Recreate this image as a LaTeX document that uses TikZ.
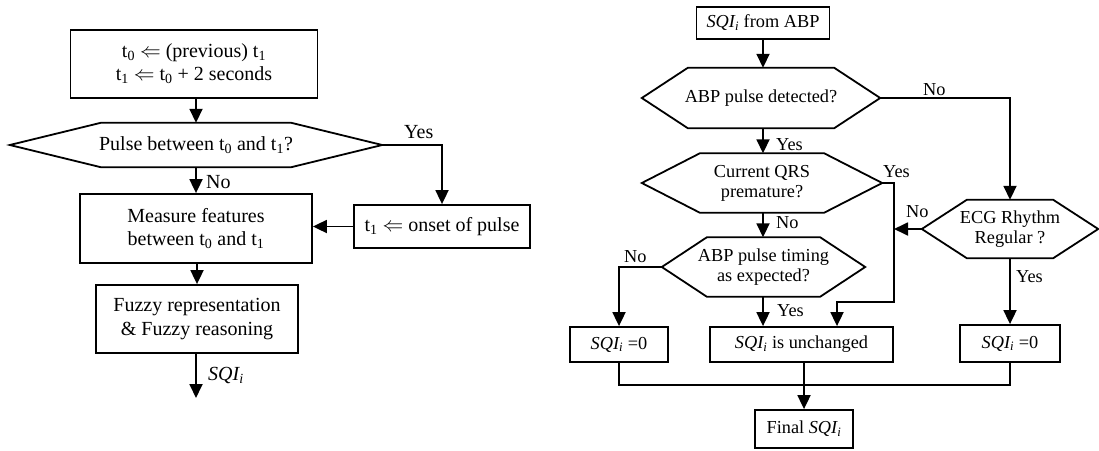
\documentclass[tikz,border=0pt]{standalone}
\usepackage{fontspec}
\setmainfont{Liberation Serif}
\usetikzlibrary{arrows.meta}
\tikzset{
  ln/.style={line width=1.8pt},
  arr/.style={ln,-{Triangle[length=14pt,width=13pt]}},
  fL/.style={font=\fontsize{20}{23}\selectfont},
  fR/.style={font=\fontsize{18.3}{20}\selectfont},
  boxL/.style={draw,ln,inner sep=0pt,align=center,fL},
  boxR/.style={draw,ln,inner sep=0pt,align=center,fR},
  hexL/.style={inner sep=0pt,align=center,fL},
  hexR/.style={inner sep=0pt,align=center,fR},
  lblL/.style={inner sep=0pt,fL},
  lblR/.style={inner sep=0pt,fR},
}
\newcommand\hexpath[2]{\draw[ln,line join=miter] (#1.west) -- ([xshift=#2pt]#1.north west) -- ([xshift=-#2pt]#1.north east) -- (#1.east) -- ([xshift=-#2pt]#1.south east) -- ([xshift=#2pt]#1.south west) -- cycle;}
\newcommand\sqi{\textit{SQI\textsubscript{i}}}
\begin{document}
\begin{tikzpicture}[x=1pt,y=-1pt]
\useasboundingbox (0,0) rectangle (1099,450);
% ---------------- left flowchart
\node[boxL,minimum width=247pt,minimum height=68pt] (b1) at (194,64)
  {t\textsubscript{0} $\Leftarrow$ (previous) t\textsubscript{1}\\ t\textsubscript{1} $\Leftarrow$ t\textsubscript{0} + 2 seconds};
\node[hexL,minimum width=372pt,minimum height=44pt] (d1) at (196,145)
  {Pulse between t\textsubscript{0} and t\textsubscript{1}?};
\hexpath{d1}{91}
\node[boxL,minimum width=232pt,minimum height=69pt] (b2) at (196,228.5)
  {Measure features\\ between t\textsubscript{0} and t\textsubscript{1}};
\node[boxL,minimum width=176pt,minimum height=43pt] (b3) at (442,226.5)
  {t\textsubscript{1} $\Leftarrow$ onset of pulse};
\node[boxL,minimum width=202pt,minimum height=68pt,font=\fontsize{20}{24}\selectfont] (b4) at (197,319)
  {Fuzzy representation\\ \& Fuzzy reasoning};
\coordinate (out) at (196,398);
\draw[arr] (b1.south -| d1.north) -- (d1.north);
\draw[arr] (d1.east) -| (b3.north);
\node[lblL,anchor=west] (yes1) at (404,132) {Yes};
\draw[arr] (d1.south) -- (b2.north);
\node[lblL,anchor=west] (no1) at (206,182) {No};
\draw[arr] (b3.west) -- (b3.west -| b2.east);
\draw[arr] (b2.south -| b4.north) -- (b4.north);
\draw[arr] (b4.south -| out) -- (out);
\node[lblL,anchor=west] (sqo) at (208,375) {\sqi};
% ---------------- right flowchart
\node[boxR,minimum width=133pt,minimum height=32pt] (r1) at (763,23) {\sqi{} from ABP};
\node[hexR,minimum width=238pt,minimum height=60pt] (rd1) at (761,98) {ABP pulse detected?};
\hexpath{rd1}{46}
\node[hexR,minimum width=240pt,minimum height=59pt] (rd2) at (762,183) {Current QRS\\ premature?};
\hexpath{rd2}{58}
\node[hexR,minimum width=203pt,minimum height=59pt] (rd3) at (763.5,267) {ABP pulse timing\\ as expected?};
\hexpath{rd3}{45}
\node[hexR,minimum width=176pt,minimum height=58pt] (ecg) at (1010,229) {ECG Rhythm\\ Regular ?};
\hexpath{ecg}{45}
\node[boxR,minimum width=98pt,minimum height=35pt] (s0l) at (619,344.5) {\sqi{} =0};
\node[boxR,minimum width=183pt,minimum height=35pt] (su) at (801.5,344.5) {\sqi{} is unchanged};
\node[boxR,minimum width=100pt,minimum height=37pt] (s0r) at (1010,343.5) {\sqi{} =0};
\node[boxR,minimum width=98pt,minimum height=38pt] (fin) at (804,429) {Final \sqi};
\coordinate (ya) at (894,302);
\coordinate (yb) at (837,302);
\coordinate (jl) at (619,385);
\coordinate (jr) at (1010,385);
\draw[arr] (r1.south) -- (rd1.north -| r1.south);
\draw[arr] (rd1.east) -| (ecg.north);
\node[lblR,anchor=west] (no2) at (923,90) {No};
\draw[arr] (rd1.south -| r1.south) -- (rd2.north -| r1.south);
\node[lblR,anchor=west] (yes2) at (776,145) {Yes};
\draw[arr] (rd2.south -| r1.south) -- (rd3.north -| r1.south);
\node[lblR,anchor=west] (no3) at (776,223) {No};
\draw[arr] (rd2.east) -| (ya) -- (yb) -- (su.north -| yb);
\node[lblR,anchor=west] (yes3) at (883,172) {Yes};
\draw[arr] (ecg.west) -- (ecg.west -| ya);
\node[lblR,anchor=west] (no4) at (906,212) {No};
\draw[arr] (rd3.west) -| (s0l.north);
\node[lblR,anchor=west] (no5) at (624,257) {No};
\draw[arr] (rd3.south -| r1.south) -- (su.north -| r1.south);
\node[lblR,anchor=west] (yes4) at (777,311) {Yes};
\draw[arr] (ecg.south) -- (s0r.north);
\node[lblR,anchor=west] (yes5) at (1016,277) {Yes};
\draw[ln] (s0l.south) -- (jl) -- (jr) -- (s0r.south);
\draw[arr] (su.south -| fin.north) -- (fin.north);
\end{tikzpicture}
\end{document}
